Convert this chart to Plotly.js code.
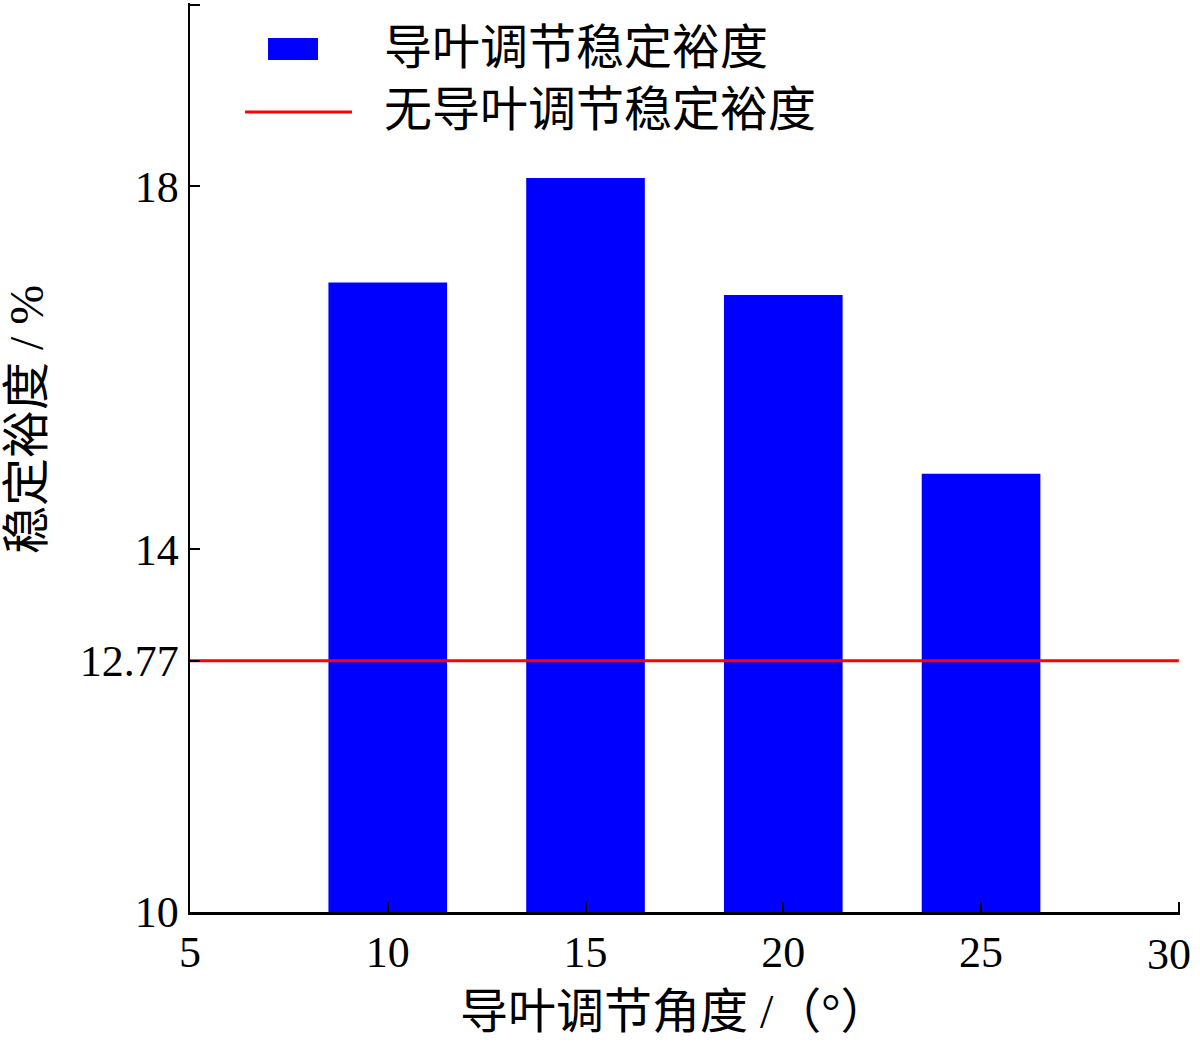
<!DOCTYPE html>
<html>
<head>
<meta charset="utf-8">
<script src="https://cdn.plot.ly/plotly-3.0.1.min.js"></script>
<style>html,body{margin:0;padding:0;background:#fff;}</style>
</head>
<body>
<div id="chart" style="width:1200px;height:1042px;"></div>
<script>
// Data
const angles = [10, 15, 20, 25];
const margins = [16.94, 18.09, 16.80, 14.83];
const baselineX = [5, 30];
const baselineValue = 12.77;
const yBase = 10;
const yTickVals = [10, 12.77, 14, 18, 20];
const yTickText = ['10', '12.77', '14', '18', ''];
const xTickVals = [5, 10, 15, 20, 25, 30];
const xTickText = ['5', '10', '15', '20', '25', ''];
const xLastLabel = '30';
const barName = '导叶调节稳定裕度';
const lineName = '无导叶调节稳定裕度';
const xTitle = '导叶调节角度 /（°）';
const yTitle = '稳定裕度 / %';

const FONT = 'Liberation Serif, Noto Sans CJK SC, serif';
const CJK = 'Liberation Serif, Noto Sans CJK SC, sans-serif';
const BLUE = '#0000ff';
const RED = '#ff0000';

const traces = [
  {
    type: 'bar', x: angles, y: margins.map(v => v - yBase), base: yBase, width: 3,
    name: barName, showlegend: false,
    marker: {color: BLUE, line: {width: 0}}
  },
  {
    type: 'scatter', mode: 'lines', x: baselineX,
    y: baselineX.map(() => baselineValue), name: lineName, showlegend: false,
    line: {color: RED, width: 3}
  }
];

const layout = {
  width: 1200, height: 1042,
  margin: {l: 190, r: 20, t: 3, b: 130},
  paper_bgcolor: '#fff', plot_bgcolor: '#fff',
  font: {family: FONT, color: '#000', size: 44},
  showlegend: false,
  xaxis: {
    range: [5, 30.03], tickvals: xTickVals, ticktext: xTickText, ticks: 'inside', ticklen: 10, tickwidth: 2,
    tickcolor: '#000', showline: true, linecolor: '#000', linewidth: 2.5,
    showgrid: false, zeroline: false, tickfont: {family: FONT, size: 44},
    ticklabeloverflow: 'allow'
  },
  yaxis: {
    range: [10, 20.02], tickvals: yTickVals, ticktext: yTickText, ticks: 'inside', ticklen: 10, tickwidth: 2,
    tickcolor: '#000', showline: true, linecolor: '#000', linewidth: 2.5,
    showgrid: false, zeroline: false, tickfont: {family: FONT, size: 44},
    ticklabeloverflow: 'allow'
  },
  shapes: [
    // legend keys
    {type: 'rect', xref: 'paper', yref: 'paper', x0: 0.0788, x1: 0.1293, y0: 0.9373, y1: 0.9615,
     fillcolor: BLUE, line: {width: 0}},
    {type: 'line', xref: 'paper', yref: 'paper', x0: 0.0556, x1: 0.1636, y0: 0.8801, y1: 0.8801,
     line: {color: RED, width: 3}}
  ],
  annotations: [
    {xref: 'paper', yref: 'paper', x: 0.194, y: 0.9505, xanchor: 'left', yanchor: 'middle',
     text: barName, showarrow: false, font: {family: CJK, size: 48, color: '#000'}},
    {xref: 'paper', yref: 'paper', x: 0.194, y: 0.8823, xanchor: 'left', yanchor: 'middle',
     text: lineName, showarrow: false, font: {family: CJK, size: 48, color: '#000'}},
    {xref: 'paper', yref: 'paper', x: 0.2707, y: -0.110, xanchor: 'left', yanchor: 'middle',
     text: xTitle, showarrow: false, font: {family: CJK, size: 48, color: '#000'}},
    {xref: 'paper', yref: 'paper', x: -0.1646, y: 0.5413, xanchor: 'center', yanchor: 'middle',
     text: yTitle, textangle: -90, showarrow: false, font: {family: CJK, size: 48, color: '#000'}},
    {xref: 'x', yref: 'paper', x: xTickVals[xTickVals.length - 1], y: 0, xanchor: 'right', yanchor: 'top',
     xshift: 14, yshift: -16, text: xLastLabel, showarrow: false, font: {family: FONT, size: 44, color: '#000'}}
  ]
};

Plotly.newPlot('chart', traces, layout, {staticPlot: true, displayModeBar: false});
</script>
</body>
</html>
